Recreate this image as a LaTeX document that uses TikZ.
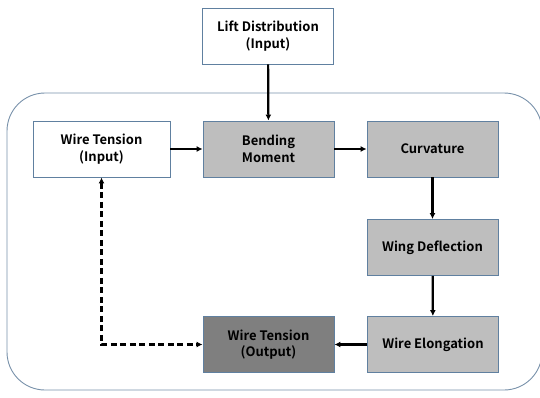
\documentclass[tikz,border=0pt]{standalone}
\usepackage{fontspec}
\setmainfont{Noto Sans CJK KR}[BoldFont={Noto Sans CJK KR Bold}]
\usetikzlibrary{arrows.meta}
\definecolor{bordercol}{RGB}{96,128,160}
\definecolor{outercol}{RGB}{120,145,170}
\definecolor{lightgray}{RGB}{190,190,190}
\definecolor{darkgray}{RGB}{127,127,127}
\begin{document}
\begin{tikzpicture}[x=1pt,y=-1pt,
  box/.style={draw=bordercol, line width=0.9pt, minimum width=131pt, minimum height=56pt,
    align=center, font=\bfseries\fontsize{13}{16.5}\selectfont, inner sep=0pt},
  arr/.style={line width=2.2pt, -{Latex[length=6pt,width=6pt]}},
  darr/.style={line width=2.2pt, dash pattern=on 6pt off 3.5pt, {Latex[length=6pt,width=6pt]}-{Latex[length=6pt,width=6pt]}}]
\useasboundingbox (0,0) rectangle (540,397);
\draw[outercol, line width=0.9pt, rounded corners=38pt] (7,93) rectangle (542,390);
\node[box, fill=white] (lift) at (268,36) {Lift Distribution\\(Input)};
\node[box, fill=white, minimum width=137pt] (wti) at (101.5,149) {Wire Tension\\(Input)};
\node[box, fill=lightgray] (bend) at (268.5,149) {Bending\\Moment};
\node[box, fill=lightgray] (curv) at (432.5,149) {Curvature};
\node[box, fill=lightgray] (wing) at (432.5,247.5) {Wing Deflection};
\node[box, fill=lightgray] (elong) at (433,344.5) {Wire Elongation};
\node[box, fill=darkgray] (wto) at (268.5,344.5) {Wire Tension\\(Output)};
\coordinate (corner) at (wti.south |- wto.west);
\draw[arr] (lift) -- (bend);
\draw[arr] (wti) -- (bend);
\draw[arr] (bend) -- (curv);
\draw[arr] (curv) -- (wing);
\draw[arr] (wing) -- (elong);
\draw[arr] (elong) -- (wto);
\draw[darr] (wti.south) -- (corner) -- (wto.west);
\end{tikzpicture}
\end{document}
